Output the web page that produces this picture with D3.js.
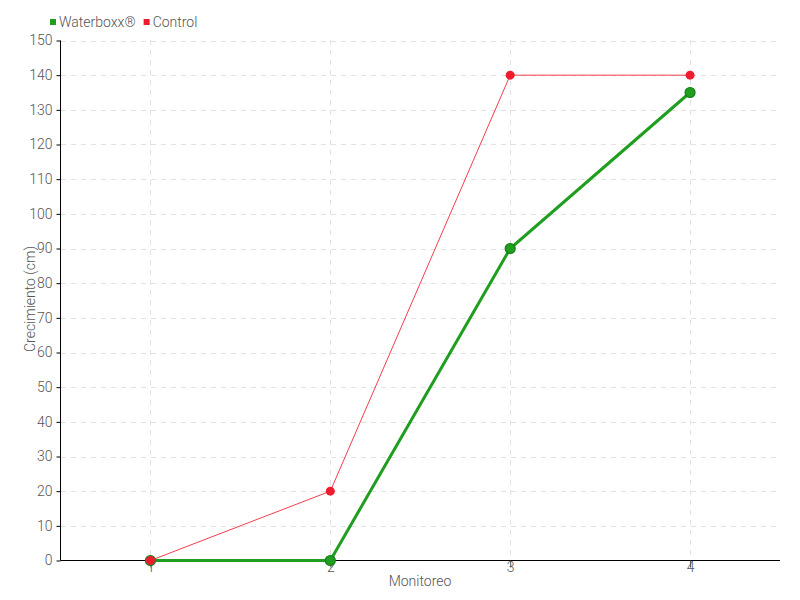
<!DOCTYPE html>
<html><head><meta charset="utf-8">
<script src="https://cdn.jsdelivr.net/npm/d3@7"></script>
<style>
body{margin:0;background:#fff;}
text{font-family:Roboto,"DejaVu Sans",sans-serif;font-weight:300;}
</style></head>
<body><svg id="c" width="800" height="600"></svg>
<script>
const categories = [1, 2, 3, 4];
const waterboxx = [0, 0, 90, 135];
const control = [0, 20, 140, 140];
const yTicks = [0,10,20,30,40,50,60,70,80,90,100,110,120,130,140,150];
const seriesNames = ["Waterboxx®", "Control"];
const colors = ["#1f9e1f", "#ee1c2e"];

const svg = d3.select("#c");
const x = d3.scaleLinear().domain([0.5, 4.5]).range([60.5, 780]);
const y = d3.scaleLinear().domain([0, 150]).range([560.5, 40.5]);

// grid
const g = svg.append("g");
g.selectAll(".hg").data(yTicks.filter(d=>d>0)).enter().append("line")
  .attr("x1", 61).attr("x2", 780).attr("y1", d=>Math.round(y(d))+0.5).attr("y2", d=>Math.round(y(d))+0.5)
  .attr("stroke", "#e2e2e2").attr("stroke-dasharray", "5,5");
g.selectAll(".vg").data(categories).enter().append("line")
  .attr("y1", 40).attr("y2", 560).attr("x1", d=>Math.round(x(d))+0.5).attr("x2", d=>Math.round(x(d))+0.5)
  .attr("stroke", "#e2e2e2").attr("stroke-dasharray", "5,5");

// axes
const yAxis = svg.append("g").attr("transform", "translate(60.5,0)")
  .call(d3.axisLeft(y).tickValues(yTicks).tickSize(4).tickPadding(4).tickFormat(d3.format("d")));
yAxis.select(".domain").attr("stroke", "#000").attr("d", "M0,40.5V560.5");
yAxis.selectAll(".tick line").attr("stroke", "#000");
yAxis.selectAll(".tick text").attr("fill", "#555").style("font-size", "14px");

const xAxis = svg.append("g").attr("transform", "translate(0,560.5)")
  .call(d3.axisBottom(x).tickValues(categories).tickSize(7).tickPadding(-5).tickFormat(d3.format("d")));
xAxis.select(".domain").attr("stroke", "#000").attr("d", "M60.5,0H780");
xAxis.selectAll(".tick line").attr("stroke", "#555");
xAxis.selectAll(".tick text").attr("fill", "#555").style("font-size", "14px");

// axis labels
svg.append("text").attr("x", 420).attr("y", 586).attr("text-anchor", "middle")
  .attr("fill", "#555").style("font-size", "14px").text("Monitoreo");
svg.append("text").attr("transform", "translate(35,299) rotate(-90)").attr("text-anchor", "middle")
  .attr("fill", "#555").style("font-size", "14px").text("Crecimiento (cm)");

// series
const line = d3.line().x((d,i)=>x(categories[i])).y(d=>y(d));
svg.append("path").datum(waterboxx).attr("d", line).attr("fill", "none")
  .attr("stroke", colors[0]).attr("stroke-width", 3);
svg.selectAll(".wp").data(waterboxx).enter().append("circle")
  .attr("cx", (d,i)=>x(categories[i])).attr("cy", d=>y(d)).attr("r", 5)
  .attr("fill", colors[0]).attr("stroke", "#17801a").attr("stroke-width", 1.2);

svg.append("path").datum(control).attr("d", line).attr("fill", "none")
  .attr("stroke", colors[1]).attr("stroke-width", 1).attr("opacity", 0.85);
svg.selectAll(".cp").data(control).enter().append("circle")
  .attr("cx", (d,i)=>x(categories[i])).attr("cy", d=>y(d)).attr("r", 4.5)
  .attr("fill", colors[1]);

// legend
const leg = svg.append("g");
let lx = 50;
seriesNames.forEach((n, i) => {
  leg.append("rect").attr("x", lx).attr("y", 19).attr("width", 6).attr("height", 6).attr("fill", colors[i]);
  const t = leg.append("text").attr("x", lx + 9).attr("y", 27).attr("fill", "#555")
    .style("font-size", "14px").text(n);
  lx = lx + 9 + t.node().getComputedTextLength() + 8;
});
</script></body></html>
